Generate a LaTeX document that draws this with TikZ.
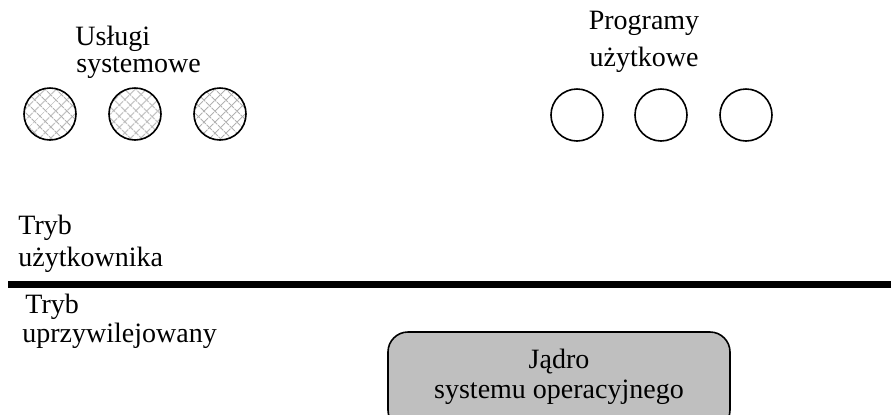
\documentclass[tikz,border=0pt]{standalone}
\usepackage{fontspec}
\setmainfont{Liberation Serif}
\usetikzlibrary{patterns.meta}

\begin{document}
\begin{tikzpicture}[x=0.5pt,y=-0.5pt,
    napis/.style ={inner sep=0pt, font=\fontsize{14}{15}\selectfont},
    usluga/.style ={circle, draw, thick, inner sep=0pt, minimum size=26pt,
      preaction={pattern={Lines[angle=45,distance=4pt,line width=0.5pt]}, pattern color=gray!60},
      pattern={Lines[angle=-45,distance=4pt,line width=0.5pt]}, pattern color=gray!60},
    program/.style ={circle, draw, thick, inner sep=0pt, minimum size=26pt},
    jadro/.style ={rectangle, rounded corners=10pt, draw, thick, fill=gray!50,
      minimum width=171pt, minimum height=49pt}]
   \useasboundingbox (0,0) rectangle (891,414);
   % usługi systemowe
   \node[napis, anchor=base west] (t1) at (75,45) {Usługi};
   \node[napis, anchor=base west] (t2) at (76,72) {systemowe};
   \node[usluga] (us1) at (50,114) {};
   \node[usluga] (us2) at (135,114) {};
   \node[usluga] (us3) at (220,114) {};
   % programy użytkowe
   \node[napis, anchor=base] (t3) at (644,29) {Programy};
   \node[napis, anchor=base] (t4) at (644,66) {użytkowe};
   \node[program] (pu1) at (577,115) {};
   \node[program] (pu2) at (661,115) {};
   \node[program] (pu3) at (746,115) {};
   % granica trybów
   \node[napis, anchor=base west] (t5) at (18,234) {Tryb};
   \node[napis, anchor=base west] (t6) at (18,266) {użytkownika};
   \coordinate (gL) at (8,284.5);
   \coordinate (gP) at (891,284.5);
   \draw[line width=3.5pt] (gL) -- (gP);
   \node[napis, anchor=base west] (t7) at (25,313) {Tryb};
   \node[napis, anchor=base west] (t8) at (22,342) {uprzywilejowany};
   % jądro
   \node[jadro] (ja) at (559,381) {};
   \node[napis, anchor=base] (t9) at (559,368) {Jądro};
   \node[napis, anchor=base] (t10) at (559,398) {systemu operacyjnego};
\end{tikzpicture}
\end{document}
